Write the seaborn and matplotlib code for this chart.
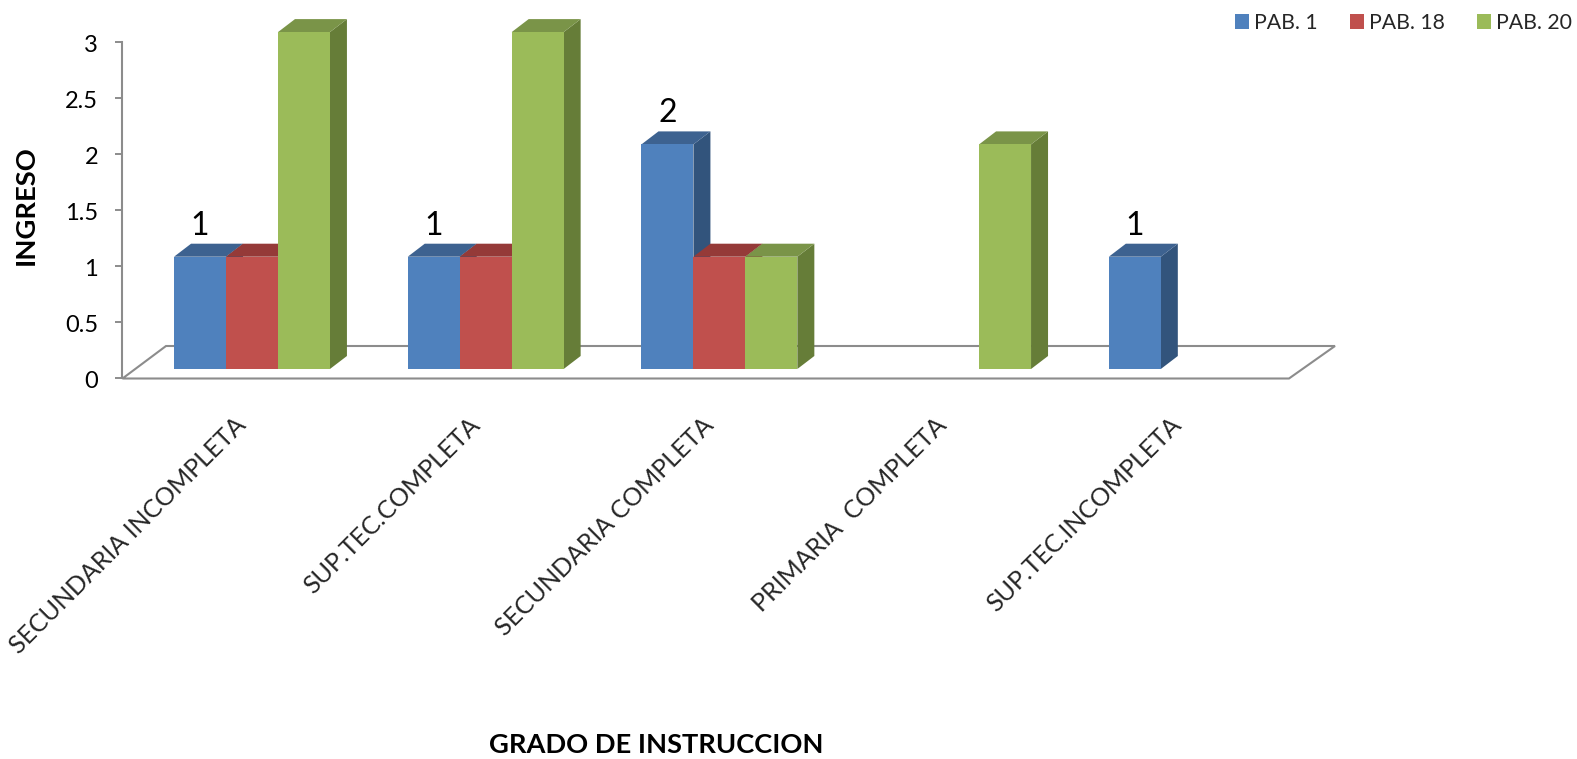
import matplotlib
matplotlib.use("Agg")
import matplotlib.pyplot as plt
from matplotlib.patches import Polygon
from matplotlib.transforms import IdentityTransform, ScaledTranslation
import pandas as pd
import seaborn as sns

categories = ["SECUNDARIA INCOMPLETA", "SUP.TEC.COMPLETA", "SECUNDARIA COMPLETA",
              "PRIMARIA  COMPLETA", "SUP.TEC.INCOMPLETA"]
pab_1 = [1, 1, 2, 0, 1]
pab_18 = [1, 1, 1, 0, 0]
pab_20 = [3, 3, 1, 2, 0]
series_names = ["PAB. 1", "PAB. 18", "PAB. 20"]
y_ticks = [0, 0.5, 1, 1.5, 2, 2.5, 3]
y_tick_labels = ["0", "0.5", "1", "1.5", "2", "2.5", "3"]
colors = ["#4F81BD", "#C0504D", "#9BBB59"]
side_colors = ["#32547C", "#8C3A38", "#667D38"]
top_colors = ["#3D6290", "#953A38", "#7A9448"]
gray = "#8C8C8C"

W, H = 1577, 759
DX, DY = 17, 13

sns.set_theme(style="white")
plt.rcParams["font.family"] = ["Lato", "DejaVu Sans"]

df = pd.DataFrame({"grado": categories * 3,
                   "pabellon": [s for s in series_names for _ in categories],
                   "ingreso": pab_1 + pab_18 + pab_20})

fig = plt.figure(figsize=(W / 100, H / 100), dpi=100)


def px_axes(left, right, top, bottom):
    return fig.add_axes([left / W, 1 - bottom / H, (right - left) / W, (bottom - top) / H])


# axis frame with the scale, sits behind the bars
ax = px_axes(122.5, 1289, 42, 378.5)
ax.set_ylim(0, 3)
ax.set_xlim(0, 1)
ax.set_xticks([])
ax.set_yticks(y_ticks)
ax.set_yticklabels(y_tick_labels)
ax.tick_params(axis="y", left=True, length=5, width=1.4, color=gray, pad=12.5, labelsize=17, labelcolor="black")
down = ScaledTranslation(0, -1.5 / 100, fig.dpi_scale_trans)
for lab in ax.get_yticklabels():
    lab.set_transform(lab.get_transform() + down)
for side in ["top", "right", "bottom"]:
    ax.spines[side].set_visible(False)
ax.spines["left"].set_color(gray)
ax.spines["left"].set_linewidth(1.5)
ax.patch.set_visible(False)

# floor
floor = Polygon([(122.5, H - 378.5), (166, H - 346), (1335, H - 346), (1289, H - 378.5)],
                closed=True, fill=False, edgecolor=gray, linewidth=1.5,
                transform=IdentityTransform(), clip_on=False)
ax.add_patch(floor)

# bars, front faces
ax_b = px_axes(122.5, 1289, 15, 369)
ax_b.set_zorder(ax.get_zorder() + 1)
ax_b.patch.set_visible(False)
sns.barplot(data=df, x="grado", y="ingreso", hue="pabellon", palette=colors,
            width=0.667, gap=0, saturation=1, edgecolor="none", linewidth=0, ax=ax_b, zorder=2)
ax_b.set_xlim((122.5 - 252) / 233.7, (1289 - 252) / 233.7)
ax_b.set_ylim(0, (369 - 15) / 112.3)
ax_b.set_yticks([])
ax_b.set_xlabel("")
ax_b.set_ylabel("")
for spine in ax_b.spines.values():
    spine.set_visible(False)
ax_b.tick_params(axis="x", length=0, pad=32, labelsize=18)
plt.setp(ax_b.get_xticklabels(), rotation=45, ha="right", va="top", rotation_mode="anchor")
shift = ScaledTranslation(-18 / 100, 0, fig.dpi_scale_trans)
for lab in ax_b.get_xticklabels():
    lab.set_transform(lab.get_transform() + shift)

# side and top faces from the bars' own positions
for i in range(len(categories)):
    for j, container in enumerate(ax_b.containers):
        bar = container[i]
        if bar.get_height() == 0:
            continue
        (x0, y0), (x1, y1) = ax_b.transData.transform(
            [(bar.get_x(), 0), (bar.get_x() + bar.get_width(), bar.get_height())])
        side = Polygon([(x1, y0), (x1 + DX, y0 + DY), (x1 + DX, y1 + DY), (x1, y1)],
                       facecolor=side_colors[j], edgecolor="none",
                       transform=IdentityTransform(), clip_on=False, zorder=1)
        top = Polygon([(x0, y1), (x0 + DX, y1 + DY), (x1 + DX, y1 + DY), (x1, y1)],
                      facecolor=top_colors[j], edgecolor="none",
                      transform=IdentityTransform(), clip_on=False, zorder=1)
        ax_b.add_patch(side)
        ax_b.add_patch(top)

ax_b.bar_label(ax_b.containers[0], labels=[str(v) if v else "" for v in pab_1],
               padding=11.5, fontsize=23, color="black")

sns.move_legend(ax_b, "upper right", bbox_to_anchor=((1572 - 122.5) / (1289 - 122.5), (H - 13 - (H - 369)) / (369 - 15)),
                ncol=3, frameon=False, title=None, fontsize=15.3, handlelength=0.66,
                handleheight=0.7, handletextpad=0.25, columnspacing=1.5, borderaxespad=0, borderpad=0)

fig.text(26 / W, 1 - 205 / H, "INGRESO", rotation=90, ha="center", va="center",
         fontsize=19.7, fontweight="bold", color="black")
fig.text(656 / W, 1 - 745 / H, "GRADO DE INSTRUCCION", ha="center", va="center",
         fontsize=19.6, fontweight="bold", color="black")

fig.savefig("out.png", dpi=100)
